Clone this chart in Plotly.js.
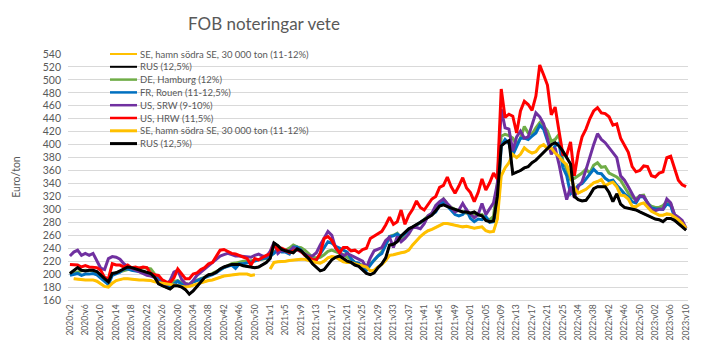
<!DOCTYPE html>
<html>
<head>
<meta charset="utf-8">
<script src="https://cdn.plot.ly/plotly-3.0.1.min.js"></script>
<style>html,body{margin:0;padding:0;background:#fff;}#chart{width:710px;height:362px;}</style>
</head>
<body>
<div id="chart"></div>
<script>
const categories = [
"2020:v2","2020:v3","2020:v4","2020:v5","2020:v6","2020:v7","2020:v8","2020:v9","2020:v10","2020:v11",
"2020:v12","2020:v13","2020:v14","2020:v15","2020:v16","2020:v17","2020:v18","2020:v19","2020:v20","2020:v21",
"2020:v22","2020:v23","2020:v24","2020:v25","2020:v26","2020:v27","2020:v28","2020:v29","2020:v30","2020:v31",
"2020:v32","2020:v33","2020:v34","2020:v35","2020:v36","2020:v37","2020:v38","2020:v39","2020:v40","2020:v41",
"2020:v42","2020:v43","2020:v44","2020:v45","2020:v46","2020:v47","2020:v48","2020:v49","2020:v50","2020:v51",
"2020:v52","2020:v53",
"2021:v1","2021:v2","2021:v3","2021:v4","2021:v5","2021:v6","2021:v7","2021:v8","2021:v9","2021:v10",
"2021:v11","2021:v12","2021:v13","2021:v14","2021:v15","2021:v16","2021:v17","2021:v18","2021:v19","2021:v20",
"2021:v21","2021:v22","2021:v23","2021:v24","2021:v25","2021:v26","2021:v27","2021:v28","2021:v29","2021:v30",
"2021:v31","2021:v32","2021:v33","2021:v34","2021:v35","2021:v36","2021:v37","2021:v38","2021:v39","2021:v40",
"2021:v41","2021:v42","2021:v43","2021:v44","2021:v45","2021:v46","2021:v47","2021:v48","2021:v49","2021:v50",
"2021:v51","2021:v52",
"2022:v01","2022:v02","2022:v03","2022:v04","2022:v05","2022:v06","2022:v07","2022:v08","2022:v09","2022:v10",
"2022:v11","2022:v12","2022:v13","2022:v14","2022:v15","2022:v16","2022:v17","2022:v18","2022:v19","2022:v20",
"2022:v21","2022:v22","2022:v23","2022:v24","2022:v25","2022:v26","2022:v30","2022:v33",
"2022:v34","2022:v35","2022:v36","2022:v37","2022:v38","2022:v39","2022:v40","2022:v41","2022:v42","2022:v43",
"2022:v44","2022:v45","2022:v46","2022:v47","2022:v48","2022:v49","2022:v50","2022:v51","2022:v52",
"2023:v01","2023:v02","2023:v03","2023:v04","2023:v05","2023:v06","2023:v07","2023:v08","2023:v09","2023:v10"
];

const tickLabels = [
"2020:v2","2020:v6","2020:v10","2020:v14","2020:v18","2020:v22","2020:v26","2020:v30","2020:v34","2020:v38",
"2020:v42","2020:v46","2020:v50","2021:v1","2021:v5","2021:v9","2021:v13","2021:v17","2021:v21","2021:v25",
"2021:v29","2021:v33","2021:v37","2021:v41","2021:v45","2021:v49","2022:v01","2022:v05","2022:v09","2022:v13",
"2022:v17","2022:v21","2022:v25","2022:v34","2022:v38","2022:v42","2022:v46","2022:v50","2023:v02","2023:v06",
"2023:v10"
];

const seSouth = [
null,193,192,191,191,191,191,189,185,181,
180,186,190,192,193,193,192,191,191,191,
191,190,188,187,187,186,185,183,182,181,
180,181,183,185,187,188,190,191,193,196,
197,198,199,199,200,200,200,198,199,null,
202,null,208,218,219,219,220,221,222,222,
223,223,221,219,218,217,220,225,227,226,
223,219,218,218,216,214,213,211,205,206,
211,215,221,229,230,232,233,234,237,245,
252,258,263,267,269,272,275,278,278,277,
276,275,273,274,272,271,272,273,267,265,
266,285,352,364,372,385,380,385,395,390,
387,389,397,400,394,395,387,382,374,369,
351,333,325,328,331,336,341,343,346,336,
340,342,335,322,321,316,305,304,308,310,
303,297,294,291,291,293,292,288,284,278,
271];

const rus = [
201,206,210,206,205,206,206,204,198,193,
188,201,202,205,209,211,210,208,206,204,
203,201,195,185,182,179,177,182,182,180,
176,169,174,181,188,195,199,200,203,208,
211,213,215,215,215,213,212,210,210,211,
214,218,224,248,244,238,236,234,233,239,
236,230,224,216,210,205,207,214,222,226,
228,224,220,218,214,212,206,201,199,202,
210,216,225,245,246,250,259,265,270,273,
276,280,284,288,291,298,305,307,304,302,
300,298,296,296,294,296,292,290,283,281,
282,320,398,403,406,355,357,360,364,366,
372,376,382,388,393,400,403,398,390,380,
370,320,315,313,314,322,332,335,335,335,
326,312,324,308,303,302,300,299,296,293,
290,287,285,284,281,286,286,283,278,274,
268];

const deHamburg = [
200,202,203,205,206,205,205,202,199,195,
191,200,202,204,206,207,208,209,210,210,
209,208,200,191,187,186,187,189,190,187,
185,184,188,191,193,195,198,201,204,208,
211,214,216,217,219,220,220,221,222,223,
223,224,227,233,240,238,237,240,245,242,
241,237,231,226,225,226,230,235,237,235,
232,230,226,222,218,216,213,211,216,221,
228,235,245,258,260,263,253,262,267,272,
276,279,285,290,294,300,309,316,308,303,
300,298,295,294,294,292,291,292,286,284,
289,340,413,416,414,410,400,410,428,418,
416,426,434,429,421,405,408,416,375,362,
346,348,352,356,362,356,368,372,365,366,
356,353,350,345,334,325,318,316,321,322,
309,305,303,303,306,312,309,292,285,278,
271];

const frRouen = [
198,200,201,198,200,200,201,199,194,188,
184,198,200,203,208,208,206,205,204,204,
203,201,198,193,188,184,180,184,189,184,
181,184,188,190,192,194,197,199,202,206,
210,212,214,209,216,216,217,218,220,222,
223,225,228,232,238,234,234,231,242,242,
237,229,224,222,222,232,242,250,248,243,
240,237,234,224,218,217,209,206,215,222,
228,232,245,258,259,262,258,263,268,272,
276,280,284,289,292,296,307,312,305,298,
292,290,292,299,286,281,285,284,289,280,
281,304,398,408,402,384,398,410,410,408,
413,418,430,424,406,390,398,403,365,352,
324,329,337,340,347,355,362,356,355,348,
344,345,337,331,324,319,312,310,320,319,
311,302,301,300,300,308,306,288,285,277,
270];

const usSrw = [
228,234,237,229,232,229,232,220,209,207,
224,227,226,223,216,212,209,207,203,200,
198,197,195,188,183,183,190,203,206,192,
185,184,190,198,203,207,212,217,222,228,
230,232,230,228,228,227,226,226,229,231,
228,227,235,249,232,237,235,236,241,238,
235,232,228,228,233,245,255,266,260,240,
234,228,232,229,226,222,220,210,225,236,
238,241,252,257,241,258,250,255,262,272,
272,270,278,290,294,306,312,316,309,303,
296,299,309,299,293,287,292,309,292,302,
310,340,455,426,424,390,412,421,410,412,
430,449,443,432,410,385,395,370,340,315,
335,318,335,343,361,382,400,417,408,403,
395,387,380,352,345,335,324,313,321,320,
310,300,298,300,300,316,310,292,288,283,
271];

const usHrw = [
215,214,214,211,213,211,211,210,206,195,
193,216,214,214,211,214,210,211,209,211,
210,201,199,198,191,188,187,194,208,201,
193,193,200,202,207,210,216,218,228,237,
238,235,232,231,229,227,224,214,224,222,
226,229,231,246,237,240,237,233,236,238,
235,229,226,222,222,232,255,258,252,241,
233,241,241,236,237,233,238,240,255,259,
262,266,276,288,277,281,299,277,291,300,
313,303,299,308,316,320,334,337,350,335,
325,336,349,333,326,312,326,347,330,341,
356,347,486,442,447,444,418,452,467,462,
453,475,523,508,492,446,458,421,385,384,
404,352,388,412,424,440,452,457,449,448,
443,430,432,410,400,388,366,358,360,367,
366,352,350,356,358,380,382,362,345,338,
335];

const names = [
"SE, hamn södra SE, 30 000 ton (11-12%)",
"RUS (12,5%)",
"DE, Hamburg (12%)",
"FR, Rouen (11-12,5%)",
"US, SRW (9-10%)",
"US, HRW (11,5%)",
"SE, hamn södra SE, 30 000 ton (11-12%)",
"RUS (12,5%)"
];
const seriesValues = [seSouth, rus, deHamburg, frRouen, usSrw, usHrw, seSouth, rus];
const colors = ["#FFC000", "#000000", "#70AD47", "#0070C0", "#7030A0", "#FF0000", "#FFC000", "#000000"];
const widths = [2, 2, 3, 3, 3, 3, 3, 3];
const legendWidths = [2, 2, 2.5, 2.5, 2.5, 2.5, 3, 3];

const FONT = "Lato, 'Liberation Sans', Arial, sans-serif";
const GREY = "#595959";

const data = seriesValues.map((vals, k) => ({
  type: "scatter", mode: "lines", x: categories, y: vals, name: names[k],
  line: {color: colors[k], width: widths[k]}, connectgaps: false,
  hoverinfo: "skip", showlegend: false
}));

// Legend drawn in the plot's top-left corner (paper coordinates of a 620x246 plot area)
const PL = 68, PW = 620, PB = 300, PH = 246;
const legTop = 54, legStep = 12.8;
const shapes = [], annotations = [];
names.forEach((nm, k) => {
  const py = legTop + k * legStep;
  const yp = (PB - py) / PH;
  shapes.push({
    type: "line", xref: "paper", yref: "paper",
    x0: (110 - PL) / PW, x1: (137 - PL) / PW, y0: yp, y1: yp,
    line: {color: colors[k], width: legendWidths[k]}, layer: "above"
  });
  annotations.push({
    xref: "paper", yref: "paper", x: (138 - PL) / PW, y: yp,
    xanchor: "left", yanchor: "middle", showarrow: false, text: nm,
    font: {family: FONT, size: 9.5, color: GREY}
  });
});

const layout = {
  width: 710, height: 362,
  margin: {l: PL, r: 710 - PL - PW, t: 54, b: 362 - PB},
  paper_bgcolor: "#ffffff", plot_bgcolor: "#ffffff",
  font: {family: FONT, color: GREY, size: 10},
  title: {
    text: "FOB noteringar vete",
    font: {family: FONT, size: 17, color: GREY},
    x: 264/710, xref: "container", xanchor: "center",
    y: 1 - 24/362, yref: "container", yanchor: "middle"
  },
  showlegend: false,
  shapes: shapes,
  annotations: annotations,
  xaxis: {
    type: "category",
    range: [-0.5, categories.length - 0.5],
    tickmode: "array",
    tickvals: tickLabels, ticktext: tickLabels,
    tickangle: -90,
    tickfont: {family: FONT, size: 8.5, color: GREY},
    showgrid: false, zeroline: false,
    showline: true, linecolor: "#D9D9D9", linewidth: 1,
    ticks: "", automargin: false, fixedrange: true
  },
  yaxis: {
    range: [160, 540], dtick: 20, tick0: 160,
    showgrid: true, gridcolor: "#D9D9D9", gridwidth: 1,
    zeroline: false, showline: false, ticks: "",
    tickfont: {family: FONT, size: 10.5, color: GREY},
    ticklabelstandoff: 6,
    title: {text: "Euro/ton", font: {family: FONT, size: 10.5, color: GREY}, standoff: 20},
    automargin: false, fixedrange: true
  }
};

Plotly.newPlot("chart", data, layout, {staticPlot: true, displayModeBar: false});
</script>
</body>
</html>
